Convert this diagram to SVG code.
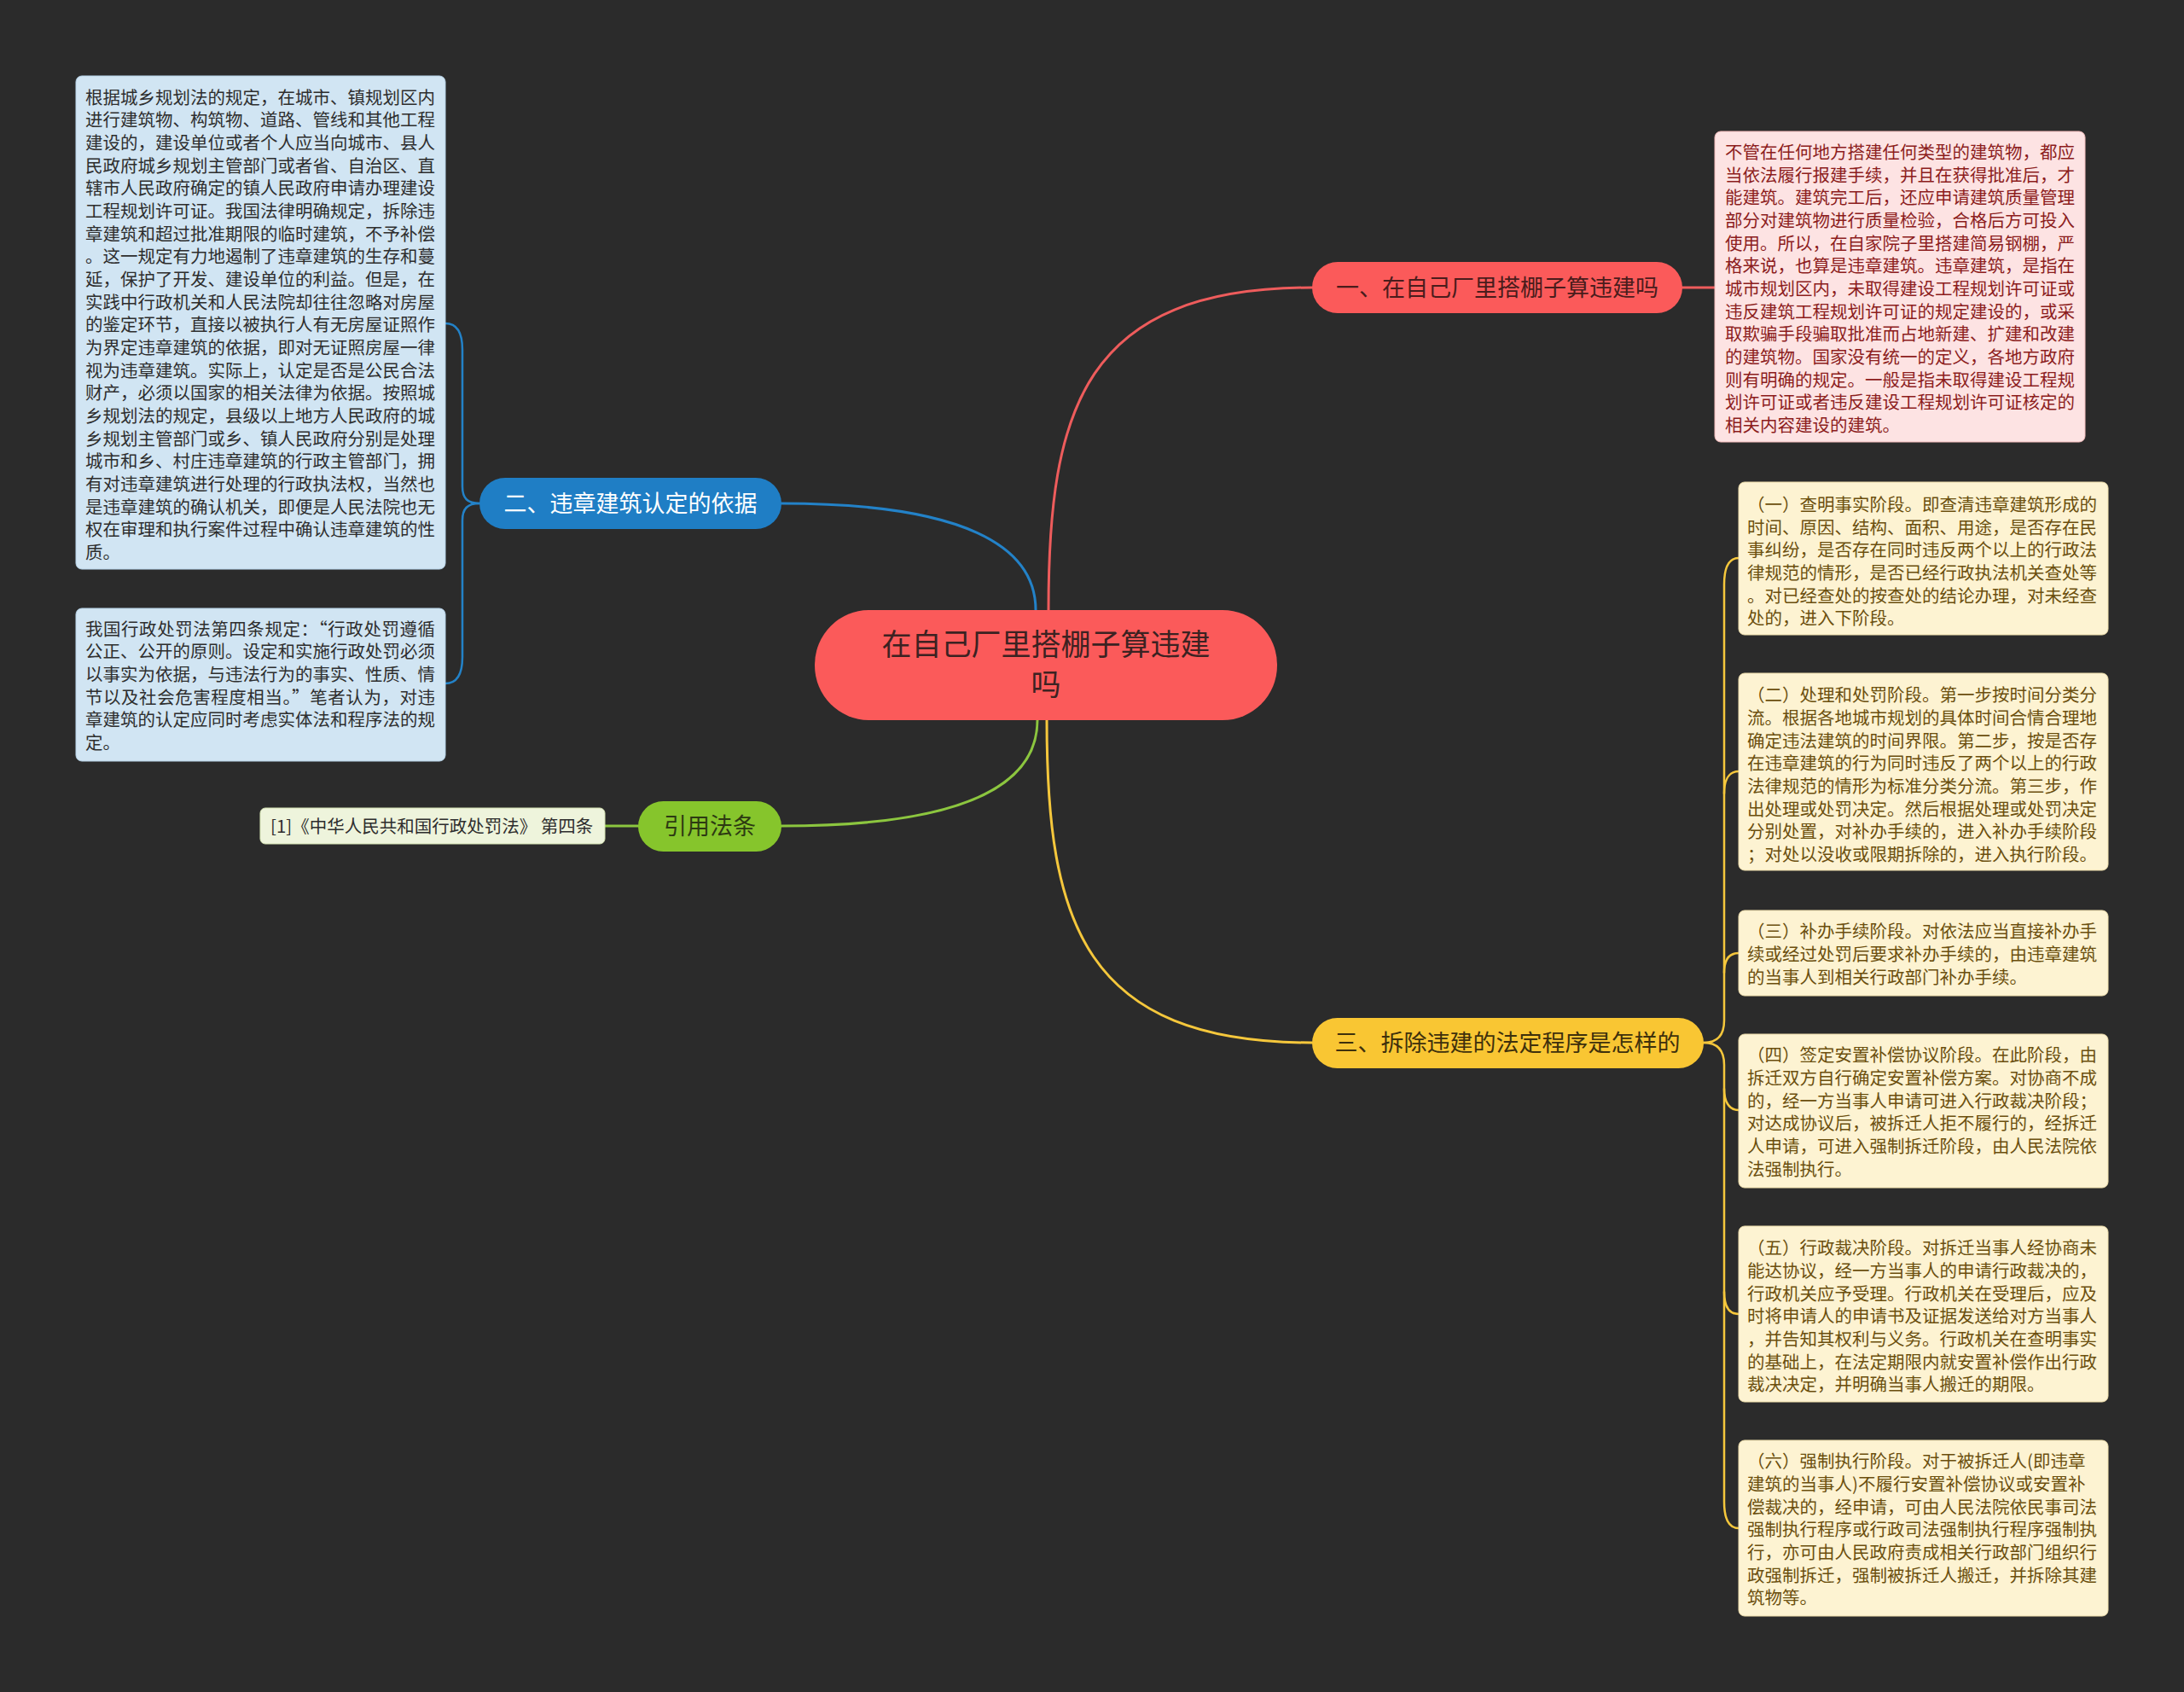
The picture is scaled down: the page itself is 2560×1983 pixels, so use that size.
<svg xmlns="http://www.w3.org/2000/svg" width="2560" height="1983" viewBox="0 0 2560 1983">
<style>
text{font-family:"Noto Sans CJK SC","Noto Sans",sans-serif;}
.leaf{font-size:20.5px;}
.br{font-size:27px;text-anchor:middle;}
.conn{fill:none;stroke-width:3;stroke-linecap:round;}
.red{stroke:#ee5c5c;}
.blue{stroke:#2382c8;}
.green{stroke:#8cc63f;}
.yellow{stroke:#f5c73c;}
.lb{fill:#d1e5f3;stroke:#b7d3e8;stroke-width:1;}
.lr{fill:#fde3e3;stroke:#f0b9b9;stroke-width:1;}
.lg{fill:#eef4dc;stroke:#d6e4b4;stroke-width:1;}
.ly{fill:#fdf3d2;stroke:#ecdcaa;stroke-width:1;}
.tb{fill:#2e2e2e;}
.tr{fill:#8c1d1d;}
.ty{fill:#6b4f0e;}
</style>
<rect x="0" y="0" width="2560" height="1983" fill="#2b2b2b"/>

<g id="connectors">
<path class="conn red" d="M1229,715 C1229,480 1270,337 1538,337"/>
<path class="conn blue" d="M1214,715 C1214,640 1130,590 916,590"/>
<path class="conn green" d="M1216,844 C1216,920 1130,968 916,968"/>
<path class="conn yellow" d="M1227,844 C1227,1080 1270,1222 1538,1222"/>
<path class="conn red" d="M1971,337 L2011,337"/>
<path class="conn green" d="M748,968 L709,968"/>
<path class="conn blue" style="stroke-width:2.5" d="M562,590 C548,590 542,584 542,570 L542,410 C542,390 536,379 522,379"/>
<path class="conn blue" style="stroke-width:2.5" d="M562,590 C548,590 542,596 542,610 L542,770 C542,790 536,801 522,801"/>
<path class="conn yellow" style="stroke-width:2.5" d="M1997,1222 C2013,1222 2021,1214 2021,1196 L2021,685 C2021,665 2026,654 2038,654"/>
<path class="conn yellow" style="stroke-width:2.5" d="M2021,930 C2021,915 2026,904 2038,904"/>
<path class="conn yellow" style="stroke-width:2.5" d="M2021,1140 C2021,1126 2026,1117 2038,1117"/>
<path class="conn yellow" style="stroke-width:2.5" d="M1997,1222 C2013,1222 2021,1230 2021,1248 L2021,1760 C2021,1780 2026,1791 2038,1791"/>
<path class="conn yellow" style="stroke-width:2.5" d="M2021,1276 C2021,1290 2026,1301 2038,1301"/>
<path class="conn yellow" style="stroke-width:2.5" d="M2021,1514 C2021,1530 2026,1540 2038,1540"/>
</g>

<g id="root">
<rect x="955" y="715" width="542" height="129" rx="64" fill="#fb5a5a"/>
<text x="1226" y="768" font-size="35" text-anchor="middle" fill="#3c2222">在自己厂里搭棚子算违建</text>
<text x="1226" y="815" font-size="35" text-anchor="middle" fill="#3c2222">吗</text>
</g>

<g id="branch1">
<rect x="1538" y="307" width="434" height="60" rx="30" fill="#fb5a5a"/>
<text class="br" x="1755" y="347" fill="#4a1c1c">一、在自己厂里搭棚子算违建吗</text>
</g>

<g id="leaf1">
<rect class="lr" x="2010" y="154" width="434" height="364" rx="7"/>
<g class="leaf tr">
<text x="2022" y="186">不管在任何地方搭建任何类型的建筑物，都应</text>
<text x="2022" y="213">当依法履行报建手续，并且在获得批准后，才</text>
<text x="2022" y="239">能建筑。建筑完工后，还应申请建筑质量管理</text>
<text x="2022" y="266">部分对建筑物进行质量检验，合格后方可投入</text>
<text x="2022" y="293">使用。所以，在自家院子里搭建简易钢棚，严</text>
<text x="2022" y="319">格来说，也算是违章建筑。违章建筑，是指在</text>
<text x="2022" y="346">城市规划区内，未取得建设工程规划许可证或</text>
<text x="2022" y="373">违反建筑工程规划许可证的规定建设的，或采</text>
<text x="2022" y="399">取欺骗手段骗取批准而占地新建、扩建和改建</text>
<text x="2022" y="426">的建筑物。国家没有统一的定义，各地方政府</text>
<text x="2022" y="453">则有明确的规定。一般是指未取得建设工程规</text>
<text x="2022" y="479">划许可证或者违反建设工程规划许可证核定的</text>
<text x="2022" y="506">相关内容建设的建筑。</text>
</g>
</g>

<g id="branch2">
<rect x="562" y="560" width="354" height="60" rx="30" fill="#1f7ec5"/>
<text class="br" x="739" y="600" fill="#ffffff">二、违章建筑认定的依据</text>
</g>

<g id="leaf2a">
<rect class="lb" x="89" y="89" width="433" height="578" rx="7"/>
<g class="leaf tb">
<text x="100" y="122">根据城乡规划法的规定，在城市、镇规划区内</text>
<text x="100" y="148">进行建筑物、构筑物、道路、管线和其他工程</text>
<text x="100" y="175">建设的，建设单位或者个人应当向城市、县人</text>
<text x="100" y="202">民政府城乡规划主管部门或者省、自治区、直</text>
<text x="100" y="228">辖市人民政府确定的镇人民政府申请办理建设</text>
<text x="100" y="255">工程规划许可证。我国法律明确规定，拆除违</text>
<text x="100" y="282">章建筑和超过批准期限的临时建筑，不予补偿</text>
<text x="100" y="308">。这一规定有力地遏制了违章建筑的生存和蔓</text>
<text x="100" y="335">延，保护了开发、建设单位的利益。但是，在</text>
<text x="100" y="362">实践中行政机关和人民法院却往往忽略对房屋</text>
<text x="100" y="388">的鉴定环节，直接以被执行人有无房屋证照作</text>
<text x="100" y="415">为界定违章建筑的依据，即对无证照房屋一律</text>
<text x="100" y="442">视为违章建筑。实际上，认定是否是公民合法</text>
<text x="100" y="468">财产，必须以国家的相关法律为依据。按照城</text>
<text x="100" y="495">乡规划法的规定，县级以上地方人民政府的城</text>
<text x="100" y="522">乡规划主管部门或乡、镇人民政府分别是处理</text>
<text x="100" y="548">城市和乡、村庄违章建筑的行政主管部门，拥</text>
<text x="100" y="575">有对违章建筑进行处理的行政执法权，当然也</text>
<text x="100" y="602">是违章建筑的确认机关，即便是人民法院也无</text>
<text x="100" y="628">权在审理和执行案件过程中确认违章建筑的性</text>
<text x="100" y="655">质。</text>
</g>
</g>

<g id="leaf2b">
<rect class="lb" x="89" y="713" width="433" height="179" rx="7"/>
<g class="leaf tb">
<text x="100" y="745" textLength="410" lengthAdjust="spacing">我国行政处罚法第四条规定：“行政处罚遵循</text>
<text x="100" y="771">公正、公开的原则。设定和实施行政处罚必须</text>
<text x="100" y="798">以事实为依据，与违法行为的事实、性质、情</text>
<text x="100" y="825" textLength="410" lengthAdjust="spacing">节以及社会危害程度相当。”笔者认为，对违</text>
<text x="100" y="851">章建筑的认定应同时考虑实体法和程序法的规</text>
<text x="100" y="878">定。</text>
</g>
</g>

<g id="branch3">
<rect x="748" y="939" width="168" height="59" rx="29.5" fill="#86c52c"/>
<text class="br" x="832" y="978" fill="#2d3a12">引用法条</text>
</g>

<g id="leaf3">
<rect class="lg" x="305" y="947" width="404" height="42" rx="6"/>
<text class="leaf tb" x="317" y="976">[1]《中华人民共和国行政处罚法》 第四条</text>
</g>

<g id="branch4">
<rect x="1538" y="1193" width="459" height="59" rx="29.5" fill="#f9c633"/>
<text class="br" x="1767" y="1232" fill="#3e300c">三、拆除违建的法定程序是怎样的</text>
</g>

<g id="leaf4a">
<rect class="ly" x="2038" y="565" width="433" height="179" rx="7"/>
<g class="leaf ty">
<text x="2048" y="599">（一）查明事实阶段。即查清违章建筑形成的</text>
<text x="2048" y="626">时间、原因、结构、面积、用途，是否存在民</text>
<text x="2048" y="652">事纠纷，是否存在同时违反两个以上的行政法</text>
<text x="2048" y="679">律规范的情形，是否已经行政执法机关查处等</text>
<text x="2048" y="706">。对已经查处的按查处的结论办理，对未经查</text>
<text x="2048" y="732">处的，进入下阶段。</text>
</g>
</g>

<g id="leaf4b">
<rect class="ly" x="2038" y="789" width="433" height="231" rx="7"/>
<g class="leaf ty">
<text x="2048" y="822">（二）处理和处罚阶段。第一步按时间分类分</text>
<text x="2048" y="849">流。根据各地城市规划的具体时间合情合理地</text>
<text x="2048" y="876">确定违法建筑的时间界限。第二步，按是否存</text>
<text x="2048" y="902">在违章建筑的行为同时违反了两个以上的行政</text>
<text x="2048" y="929">法律规范的情形为标准分类分流。第三步，作</text>
<text x="2048" y="956">出处理或处罚决定。然后根据处理或处罚决定</text>
<text x="2048" y="982">分别处置，对补办手续的，进入补办手续阶段</text>
<text x="2048" y="1009">；对处以没收或限期拆除的，进入执行阶段。</text>
</g>
</g>

<g id="leaf4c">
<rect class="ly" x="2038" y="1067" width="433" height="100" rx="7"/>
<g class="leaf ty">
<text x="2048" y="1099">（三）补办手续阶段。对依法应当直接补办手</text>
<text x="2048" y="1126">续或经过处罚后要求补办手续的，由违章建筑</text>
<text x="2048" y="1153">的当事人到相关行政部门补办手续。</text>
</g>
</g>

<g id="leaf4d">
<rect class="ly" x="2038" y="1212" width="433" height="180" rx="7"/>
<g class="leaf ty">
<text x="2048" y="1244">（四）签定安置补偿协议阶段。在此阶段，由</text>
<text x="2048" y="1271">拆迁双方自行确定安置补偿方案。对协商不成</text>
<text x="2048" y="1298">的，经一方当事人申请可进入行政裁决阶段；</text>
<text x="2048" y="1324">对达成协议后，被拆迁人拒不履行的，经拆迁</text>
<text x="2048" y="1351">人申请，可进入强制拆迁阶段，由人民法院依</text>
<text x="2048" y="1378">法强制执行。</text>
</g>
</g>

<g id="leaf4e">
<rect class="ly" x="2038" y="1437" width="433" height="206" rx="7"/>
<g class="leaf ty">
<text x="2048" y="1470">（五）行政裁决阶段。对拆迁当事人经协商未</text>
<text x="2048" y="1497">能达协议，经一方当事人的申请行政裁决的，</text>
<text x="2048" y="1524">行政机关应予受理。行政机关在受理后，应及</text>
<text x="2048" y="1550">时将申请人的申请书及证据发送给对方当事人</text>
<text x="2048" y="1577">，并告知其权利与义务。行政机关在查明事实</text>
<text x="2048" y="1604">的基础上，在法定期限内就安置补偿作出行政</text>
<text x="2048" y="1630">裁决决定，并明确当事人搬迁的期限。</text>
</g>
</g>

<g id="leaf4f">
<rect class="ly" x="2038" y="1688" width="433" height="206" rx="7"/>
<g class="leaf ty">
<text x="2048" y="1720">（六）强制执行阶段。对于被拆迁人(即违章</text>
<text x="2048" y="1747">建筑的当事人)不履行安置补偿协议或安置补</text>
<text x="2048" y="1774">偿裁决的，经申请，可由人民法院依民事司法</text>
<text x="2048" y="1800">强制执行程序或行政司法强制执行程序强制执</text>
<text x="2048" y="1827">行，亦可由人民政府责成相关行政部门组织行</text>
<text x="2048" y="1854">政强制拆迁，强制被拆迁人搬迁，并拆除其建</text>
<text x="2048" y="1880">筑物等。</text>
</g>
</g>
</svg>
